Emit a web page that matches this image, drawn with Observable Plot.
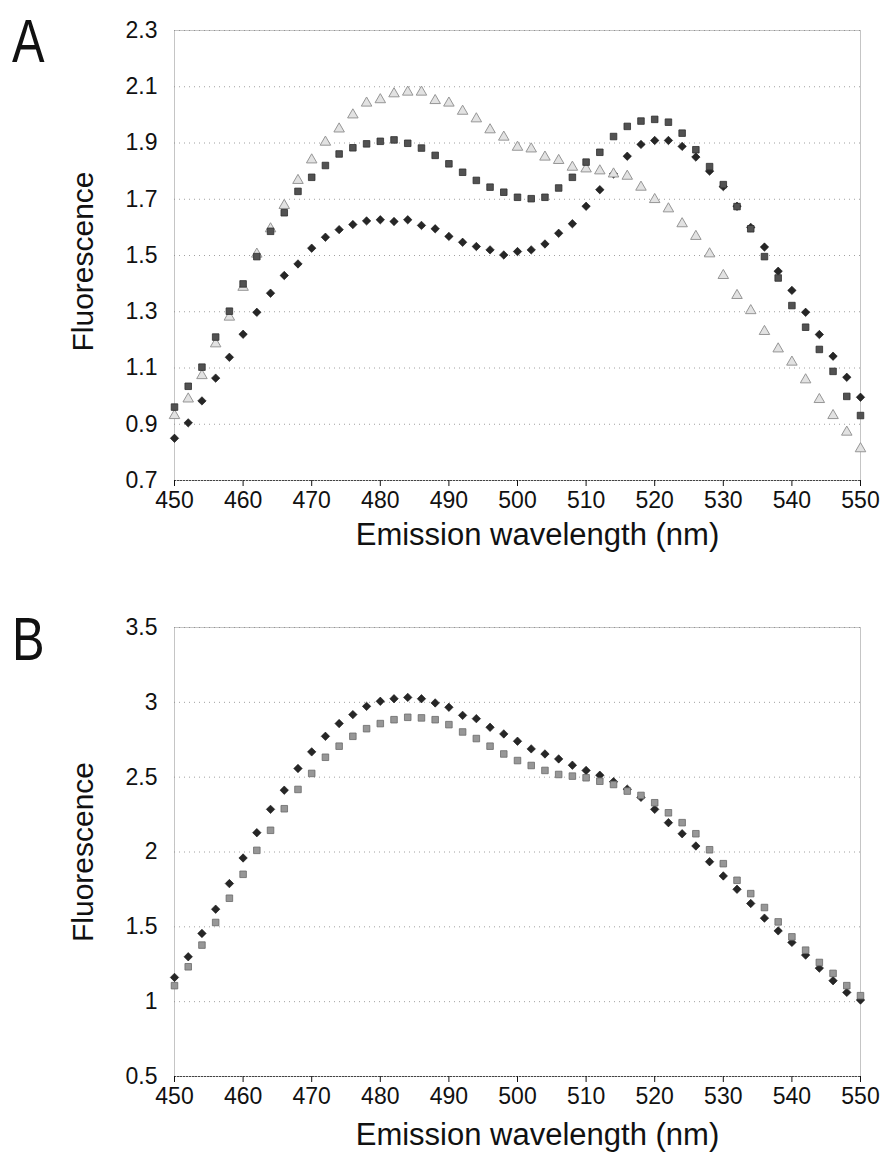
<!DOCTYPE html>
<html>
<head>
<meta charset="utf-8">
<script src="https://cdn.jsdelivr.net/npm/d3@7"></script>
<script src="https://cdn.jsdelivr.net/npm/@observablehq/plot@0.6"></script>
<style>
  body { margin: 0; background: #fff; }
  #wrap { position: relative; width: 895px; height: 1162px; background: #fff; }
  .panel { position: absolute; left: 0; }
  .letter { position: absolute; left: 12px; z-index: 5; font-family: "Liberation Sans", Arial, sans-serif; font-size: 61px; line-height: normal; color: #111; transform: scaleX(0.8); transform-origin: 0 0; }
</style>
</head>
<body>
<div id="wrap">
  <div class="panel" id="panelA" style="top:0px"></div>
  <div class="panel" id="panelB" style="top:600px"></div>
  <div class="letter" id="letterA" style="top:6px">A</div>
  <div class="letter" id="letterB" style="top:604px">B</div>
</div>
<script>
// ---------- DATA ----------
const wavelengths = [450,452,454,456,458,460,462,464,466,468,470,472,474,476,478,480,482,484,486,488,490,492,494,496,498,500,502,504,506,508,510,512,514,516,518,520,522,524,526,528,530,532,534,536,538,540,542,544,546,548,550];

// Panel A
const aDiamond = [0.850,0.905,0.983,1.064,1.138,1.220,1.298,1.366,1.429,1.470,1.526,1.565,1.592,1.610,1.623,1.627,1.621,1.627,1.607,1.595,1.568,1.547,1.532,1.520,1.502,1.514,1.520,1.541,1.579,1.613,1.675,1.734,1.790,1.853,1.895,1.909,1.909,1.888,1.850,1.800,1.745,1.675,1.600,1.530,1.444,1.376,1.298,1.219,1.142,1.067,0.996];
const aSquare = [0.961,1.035,1.103,1.210,1.302,1.399,1.496,1.586,1.652,1.728,1.778,1.820,1.861,1.883,1.897,1.906,1.911,1.899,1.882,1.856,1.826,1.796,1.767,1.743,1.725,1.707,1.702,1.707,1.740,1.778,1.832,1.867,1.923,1.959,1.978,1.984,1.974,1.935,1.876,1.816,1.752,1.674,1.595,1.496,1.420,1.322,1.245,1.166,1.088,0.999,0.931];
const aTriangle = [0.931,0.990,1.073,1.186,1.281,1.387,1.505,1.595,1.678,1.767,1.840,1.903,1.950,2.000,2.042,2.054,2.075,2.081,2.081,2.051,2.042,2.013,1.986,1.947,1.921,1.885,1.879,1.850,1.838,1.814,1.808,1.801,1.790,1.782,1.743,1.699,1.666,1.613,1.568,1.506,1.429,1.358,1.304,1.230,1.168,1.121,1.058,0.988,0.931,0.872,0.813];

// Panel B
const bDiamond = [1.162,1.300,1.456,1.618,1.789,1.960,2.129,2.285,2.413,2.558,2.669,2.773,2.858,2.918,2.973,3.007,3.024,3.033,3.024,2.996,2.967,2.913,2.891,2.833,2.789,2.740,2.689,2.655,2.622,2.580,2.545,2.513,2.470,2.420,2.365,2.285,2.196,2.122,2.040,1.935,1.840,1.751,1.656,1.558,1.473,1.396,1.311,1.224,1.140,1.062,1.011];
const bSquare = [1.107,1.233,1.378,1.529,1.691,1.851,2.011,2.145,2.289,2.418,2.525,2.633,2.707,2.773,2.824,2.858,2.884,2.900,2.896,2.884,2.851,2.802,2.758,2.707,2.655,2.611,2.578,2.545,2.518,2.507,2.496,2.473,2.451,2.407,2.378,2.329,2.262,2.196,2.122,2.015,1.922,1.811,1.722,1.629,1.533,1.433,1.344,1.262,1.189,1.107,1.040];

// Tick labels / axes
const xTicks = [450,460,470,480,490,500,510,520,530,540,550];
const yTicksA = [0.7,0.9,1.1,1.3,1.5,1.7,1.9,2.1,2.3];
const yTicksB = [0.5,1,1.5,2,2.5,3,3.5];
const xTitle = "Emission wavelength (nm)";
const yTitle = "Fluorescence";

// ---------- BUILD ----------
const toRows = (vals) => wavelengths.map((w, i) => ({w, v: vals[i]}));
const FONT = "Liberation Sans, Arial, sans-serif";

function panel({yDomain, yTicks, yFmt, height, marginTop, marginBottom, yTitleDy, xTitleDy, series}) {
  return Plot.plot({
    width: 895,
    height,
    marginLeft: 174,
    marginRight: 35,
    marginTop,
    marginBottom,
    style: {fontFamily: FONT, background: "#fff", overflow: "visible"},
    x: {domain: [450, 550]},
    y: {domain: yDomain},
    marks: [
      Plot.gridY(yTicks, {stroke: "#a0a0a0", strokeOpacity: 1, strokeDasharray: "1,4", strokeWidth: 1}),
      Plot.frame({stroke: "#8a8a8a", strokeDasharray: "1,1", strokeWidth: 1}),
      Plot.ruleY([yDomain[0]], {stroke: "#444", strokeDasharray: "2,1", strokeWidth: 1}),
      Plot.axisY({ticks: yTicks, tickFormat: yFmt, tickSize: 0, tickPadding: 17, fontSize: 23, label: null, color: "#111"}),
      Plot.axisX({ticks: xTicks, tickFormat: d => String(d), tickSize: 6, tickPadding: 5, fontSize: 23, label: null, color: "#111"}),
      Plot.text([xTitle], {frameAnchor: "bottom", dx: 20, dy: xTitleDy, fontSize: 31, fill: "#111", lineAnchor: "middle", textAnchor: "middle"}),
      Plot.text([yTitle], {frameAnchor: "left", dx: -91, dy: yTitleDy, rotate: -90, fontSize: 30, fill: "#111", lineAnchor: "middle", textAnchor: "middle"}),
      ...series
    ]
  });
}

const plotA = panel({
  yDomain: [0.7, 2.3], yTicks: yTicksA, yFmt: d3.format(".1f"),
  height: 560, marginTop: 30, marginBottom: 80, yTitleDy: 6, xTitleDy: 55,
  series: [
    Plot.dot(toRows(aDiamond), {x: "w", y: "v", symbol: "diamond2", r: 3.8, fill: "#262626", stroke: "#111", strokeWidth: 0.6}),
    Plot.dot(toRows(aTriangle), {x: "w", y: "v", symbol: "triangle", r: 3.9, fill: "#e2e2e2", stroke: "#969696", strokeWidth: 1}),
    Plot.dot(toRows(aSquare), {x: "w", y: "v", symbol: "square", r: 3.7, fill: "#525252", stroke: "#2e2e2e", strokeWidth: 0.8})
  ]
});

const plotB = panel({
  yDomain: [0.5, 3.5], yTicks: yTicksB, yFmt: d => String(d),
  height: 562, marginTop: 27, marginBottom: 86, yTitleDy: 0, xTitleDy: 59,
  series: [
    Plot.dot(toRows(bDiamond), {x: "w", y: "v", symbol: "diamond2", r: 3.8, fill: "#262626", stroke: "#111", strokeWidth: 0.6}),
    Plot.dot(toRows(bSquare), {x: "w", y: "v", symbol: "square", r: 3.7, fill: "#979797", stroke: "#6a6a6a", strokeWidth: 0.8})
  ]
});

document.getElementById("panelA").appendChild(plotA);
document.getElementById("panelB").appendChild(plotB);
</script>
</body>
</html>
